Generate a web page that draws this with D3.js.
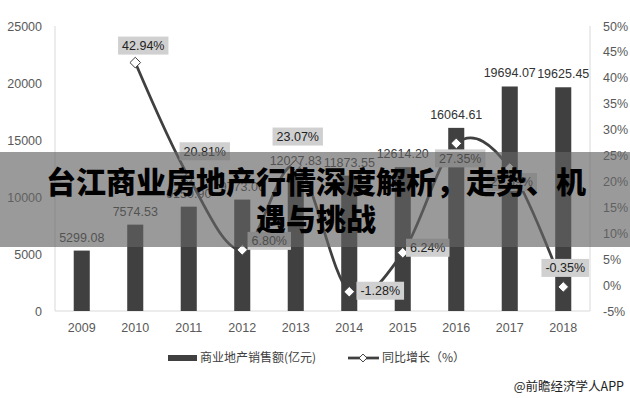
<!DOCTYPE html>
<html>
<head>
<meta charset="utf-8">
<script src="https://cdn.jsdelivr.net/npm/d3@7"></script>
<style>
  body { margin: 0; background: #fff; }
  svg { display: block; }
</style>
</head>
<body>
<div id="chart"></div>
<script>
// data
const years = ["2009", "2010", "2011", "2012", "2013", "2014", "2015", "2016", "2017", "2018"];
const sales = [5299.08, 7574.53, 9150.90, 9773.06, 12027.83, 11873.55, 12614.20, 16064.61, 19694.07, 19625.45];
const growth = [null, 42.94, 20.81, 6.80, 23.07, -1.28, 6.24, 27.35, 22.59, -0.35];
const leftTicks = [0, 5000, 10000, 15000, 20000, 25000];
const rightTicks = [-5, 0, 5, 10, 15, 20, 25, 30, 35, 40, 45, 50];
// where each growth label sits, relative to its marker
const growthLabelOffset = [null, [8, -17], [16, -26], [27, -9], [2, -29], [31, -1], [25, -5], [4, 15], [2, 14], [2, -19]];

const width = 630, height = 398;
const plot = { left: 55, right: 590, top: 26, bottom: 311 };
const dark = "#404040";
const numFont = "'Liberation Sans', Arial, sans-serif";
const cjkFont = "'Noto Sans CJK SC', sans-serif";

const svg = d3.select("#chart")
  .append("svg")
  .attr("width", width)
  .attr("height", height);

const x = d3.scaleBand()
  .domain(years)
  .range([plot.left, plot.right])
  .paddingInner(0.7)
  .paddingOuter(0.35);

const yLeft = d3.scaleLinear().domain([0, 25000]).range([plot.bottom, plot.top]);
const yRight = d3.scaleLinear().domain([-5, 50]).range([plot.bottom, plot.top]);

// plot frame (left, right, bottom)
svg.append("path")
  .attr("d", `M${plot.left},${plot.top}V${plot.bottom}H${plot.right}V${plot.top}`)
  .attr("fill", "none")
  .attr("stroke", "#d9d9d9")
  .attr("stroke-width", 1);

// left axis
const axL = svg.append("g")
  .attr("transform", `translate(${plot.left},0)`)
  .call(d3.axisLeft(yLeft).tickValues(leftTicks).tickSize(0).tickPadding(13).tickFormat(d3.format("d")));
axL.select(".domain").remove();

// right axis
const axR = svg.append("g")
  .attr("transform", `translate(${plot.right},0)`)
  .call(d3.axisRight(yRight).tickValues(rightTicks).tickSize(0).tickPadding(13).tickFormat(d => d + "%"));
axR.select(".domain").remove();

// bottom axis
const axB = svg.append("g")
  .attr("transform", `translate(0,${plot.bottom})`)
  .call(d3.axisBottom(x).tickSize(0).tickPadding(12));
axB.select(".domain").remove();

svg.selectAll(".tick text")
  .attr("fill", "#595959")
  .style("font-family", numFont)
  .style("font-size", "12.5px");

// bars
svg.selectAll(".bar")
  .data(years)
  .join("rect")
  .attr("class", "bar")
  .attr("x", d => x(d))
  .attr("width", x.bandwidth())
  .attr("y", (d, i) => yLeft(sales[i]))
  .attr("height", (d, i) => plot.bottom - yLeft(sales[i]))
  .attr("fill", dark);

// bar value labels
svg.selectAll(".barlabel")
  .data(years)
  .join("text")
  .attr("class", "barlabel")
  .attr("x", d => x(d) + x.bandwidth() / 2)
  .attr("y", (d, i) => yLeft(sales[i]) - 9)
  .attr("text-anchor", "middle")
  .attr("fill", "#333")
  .style("font-family", numFont)
  .style("font-size", "12.5px")
  .text((d, i) => sales[i].toFixed(2));

// growth line (smoothed like Excel)
const pts = years.map((d, i) => ({ year: d, v: growth[i], off: growthLabelOffset[i] }))
  .filter(p => p.v !== null);

const line = d3.line()
  .x(p => x(p.year) + x.bandwidth() / 2)
  .y(p => yRight(p.v))
  .curve(d3.curveCardinal.tension(0));

svg.append("path")
  .datum(pts)
  .attr("d", line)
  .attr("fill", "none")
  .attr("stroke", dark)
  .attr("stroke-width", 2.75);

const diamond = d3.symbol().type(d3.symbolDiamond2).size(72);

svg.selectAll(".marker")
  .data(pts)
  .join("path")
  .attr("class", "marker")
  .attr("d", diamond)
  .attr("transform", p => `translate(${x(p.year) + x.bandwidth() / 2},${yRight(p.v)})`)
  .attr("fill", "#fff")
  .attr("stroke", dark)
  .attr("stroke-width", 1);

// growth labels in grey boxes
const gl = svg.selectAll(".glabel")
  .data(pts)
  .join("g")
  .attr("class", "glabel")
  .attr("transform", p => `translate(${x(p.year) + x.bandwidth() / 2 + p.off[0]},${yRight(p.v) + p.off[1]})`);

gl.append("rect").attr("fill", "#d0d0d0");
gl.append("text")
  .attr("text-anchor", "middle")
  .attr("dy", "0.35em")
  .attr("fill", "#222")
  .style("font-family", numFont)
  .style("font-size", "12.5px")
  .text(p => p.v.toFixed(2) + "%");

gl.each(function () {
  const g = d3.select(this);
  const w = g.select("text").node().getComputedTextLength() + 8;
  g.select("rect").attr("x", -w / 2).attr("y", -9).attr("width", w).attr("height", 18);
});

// legend
const legend = svg.append("g");
legend.append("rect")
  .attr("x", 168).attr("y", 355).attr("width", 29).attr("height", 6)
  .attr("fill", dark);
legend.append("text")
  .attr("x", 200).attr("y", 358).attr("dy", "0.35em")
  .attr("fill", "#404040")
  .style("font-family", cjkFont)
  .style("font-size", "12px")
  .text("商业地产销售额(亿元)");
legend.append("line")
  .attr("x1", 348).attr("x2", 379).attr("y1", 358).attr("y2", 358)
  .attr("stroke", dark).attr("stroke-width", 2.75);
legend.append("path")
  .attr("d", d3.symbol().type(d3.symbolDiamond2).size(40))
  .attr("transform", "translate(363,358)")
  .attr("fill", "#fff").attr("stroke", dark);
legend.append("text")
  .attr("x", 382).attr("y", 358).attr("dy", "0.35em")
  .attr("fill", "#404040")
  .style("font-family", cjkFont)
  .style("font-size", "12px")
  .text("同比增长（%）");

// source note
svg.append("text")
  .attr("x", 624).attr("y", 387).attr("dy", "0.35em")
  .attr("text-anchor", "end")
  .attr("fill", "#222")
  .style("font-family", cjkFont)
  .style("font-size", "12.5px")
  .text("@前瞻经济学人APP");

// title banner over the chart
svg.append("rect")
  .attr("x", 0).attr("y", 152).attr("width", width).attr("height", 95)
  .attr("fill", "rgb(100,100,100)")
  .attr("opacity", 0.65);

const titleLines = ["台江商业房地产行情深度解析，走势、机", "遇与挑战"];
svg.selectAll(".title")
  .data(titleLines)
  .join("text")
  .attr("class", "title")
  .attr("x", 316)
  .attr("y", (d, i) => 182 + i * 37)
  .attr("dy", "0.35em")
  .attr("text-anchor", "middle")
  .attr("fill", "#000")
  .style("font-family", cjkFont)
  .style("font-weight", 900)
  .style("font-size", "30px")
  .text(d => d);
</script>
</body>
</html>
